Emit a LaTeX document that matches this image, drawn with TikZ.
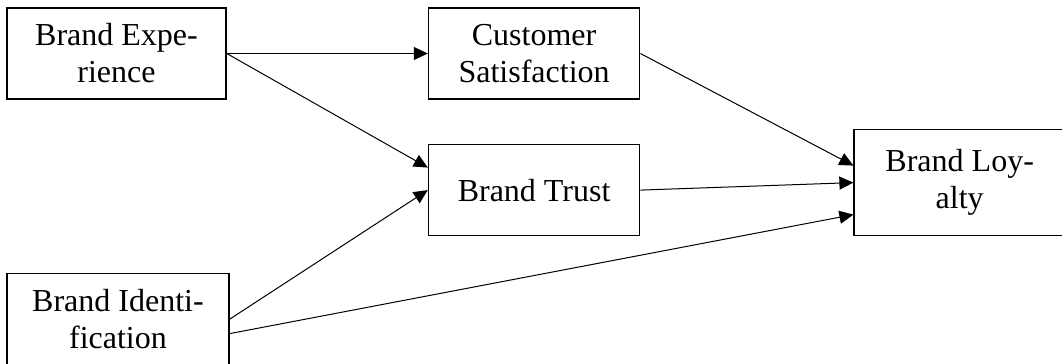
\documentclass[tikz,border=0pt]{standalone}
\usepackage{fontspec}
\setmainfont{Liberation Serif}
\usetikzlibrary{arrows.meta, positioning}

\begin{document}
\begin{tikzpicture}[
    node distance=22pt,
    box/.style={rectangle, draw=black, line width=0.8pt, minimum width=105.5pt, minimum height=45.5pt, inner sep=0pt, align=center, font=\fontsize{16}{18.5}\selectfont},
    arrow/.style={-{Triangle[length=7pt, width=6.5pt]}, line width=0.5pt, black}
]
\useasboundingbox (-58.25pt,-155.25pt) rectangle (472.75pt,26.75pt);

\node[box, minimum width=109.5pt] (exp) {Brand Expe-\\rience};
\node[box, right=100.5pt of exp] (sat) {Customer\\Satisfaction};
\node[box, below=of sat] (trust) {Brand Trust};
\node[box, minimum width=111pt, below=86.5pt of exp.south west, anchor=north west] (ident) {Brand Identi-\\fication};
\node[box, minimum height=53pt, right=106.5pt of trust, yshift=3.75pt] (loyal) {Brand Loy-\\alty};

\draw[arrow] (exp) -- (sat);
\draw[arrow] (exp.east) -- ([yshift=11.25pt]trust.west);
\draw[arrow] (ident.east) -- (trust.west);
\draw[arrow] (sat.east) -- ([yshift=8.5pt]loyal.west);
\draw[arrow] (trust.east) -- (loyal.west);
\draw[arrow] ([yshift=-7.25pt]ident.east) -- ([yshift=-16pt]loyal.west);

\end{tikzpicture}
\end{document}
